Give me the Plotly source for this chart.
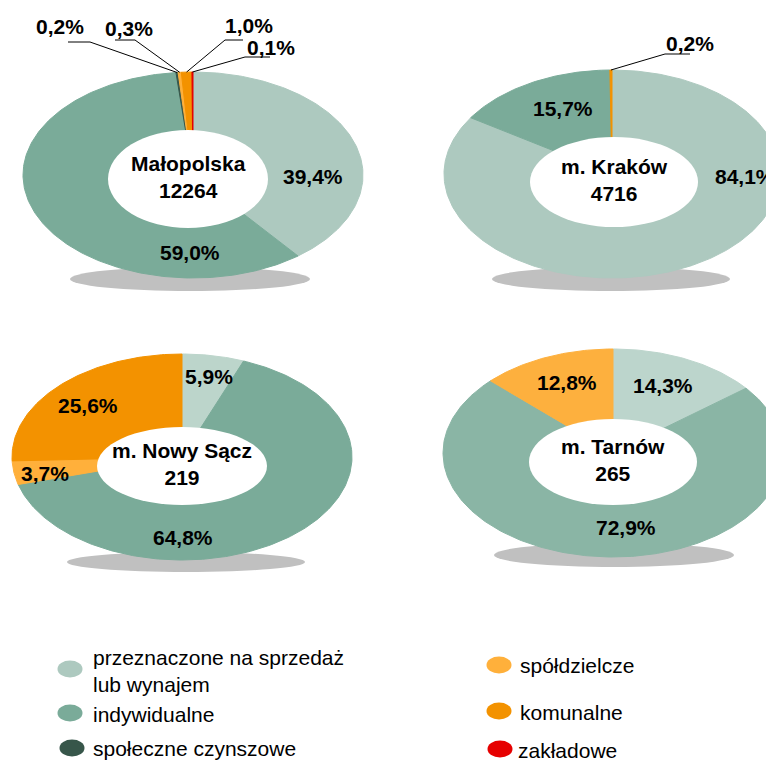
import math
import plotly.graph_objects as go

W, H = 774, 762
PAD = 8  # domyślny margines strony
FONT = "Liberation Sans, Arial, sans-serif"

categories = [
    "przeznaczone na sprzedaż lub wynajem",
    "indywidualne",
    "społeczne czynszowe",
    "spółdzielcze",
    "komunalne",
    "zakładowe",
]
legend_text = [
    "przeznaczone na sprzedaż<br>lub wynajem",
    "indywidualne",
    "społeczne czynszowe",
    "spółdzielcze",
    "komunalne",
    "zakładowe",
]
colors = ["#adc9bf", "#7aab99", "#37564a", "#ffb03b", "#f39200", "#e60000"]

regions = ["Małopolska", "m. Kraków", "m. Nowy Sącz", "m. Tarnów"]
totals = [12264, 4716, 219, 265]

# udział w % (kolejność jak categories)
malopolska = [39.4, 59.0, 0.2, 0.3, 1.0, 0.1]
krakow = [84.1, 15.7, 0.0, 0.0, 0.2, 0.0]
nowy_sacz = [5.9, 64.8, 0.0, 3.7, 25.6, 0.0]
tarnow = [14.3, 72.9, 0.0, 12.8, 0.0, 0.0]
shares = [malopolska, krakow, nowy_sacz, tarnow]

# geometria wykresów (piksele)
geo = [
    dict(c=(193, 175, 170, 103), hole=(188, 179, 80, 49), shadow=(190, 279, 120, 12),
         lbl={0: (313, 176), 1: (190, 252)},
         leaders={2: ((90, 42), 68, (60, 26)), 3: ((135, 40), 115, (129, 28)),
                  4: ((225, 40), 243, (249, 25)), 5: ((245, 57), 270, (271, 47))}),
    dict(c=(612, 174, 168, 104), hole=(614, 182, 84, 45), shadow=(611, 279, 119, 12),
         lbl={0: (745, 176), 1: (563, 108)},
         leaders={4: ((665, 54), 690, (690, 43))}),
    dict(c=(182, 457, 170, 103), hole=(182, 466, 85, 39), shadow=(186, 562, 119, 10),
         lbl={0: (209, 376), 1: (183, 537), 3: (45, 473), 4: (88, 405)},
         leaders={}),
    dict(c=(613, 453, 170, 104), hole=(613, 462, 84, 43), shadow=(614, 555, 120, 12),
         lbl={0: (663, 385), 1: (626, 527), 3: (567, 382)},
         leaders={}),
]
color_override = {2: {0: "#bcd5cb"}, 3: {0: "#bcd5cc", 1: "#8ab5a5", 3: "#fdb03e"}}


def fmt(v):
    return f"{v:.1f}".replace(".", ",") + "%"


def point(cx, cy, rx, ry, f):
    t = 2 * math.pi * f
    return cx + rx * math.sin(t), cy - ry * math.cos(t)


bold = dict(family=FONT, size=21, color="black", weight="bold")

fig = go.Figure()
shapes = []
annotations = []

for k, vals in enumerate(shares):
    g = geo[k]
    cx, cy, rx, ry = g["c"]
    sx, sy, srx, sry = g["shadow"]
    shapes.append(dict(type="circle", xref="x", yref="y", layer="below",
                       x0=sx - srx, x1=sx + srx, y0=sy - sry, y1=sy + sry,
                       fillcolor="#c0c0c0", line=dict(width=0)))
    total = sum(vals)
    cum = 0.0
    for i, v in enumerate(vals):
        if v <= 0:
            continue
        f0, f1 = cum / total, (cum + v) / total
        cum += v
        n = max(2, int((f1 - f0) * 360) + 2)
        xs, ys = [cx], [cy]
        for j in range(n + 1):
            px, py = point(cx, cy, rx, ry, f0 + (f1 - f0) * j / n)
            xs.append(px)
            ys.append(py)
        xs.append(cx)
        ys.append(cy)
        col = color_override.get(k, {}).get(i, colors[i])
        fig.add_trace(go.Scatter(x=xs, y=ys, mode="lines", fill="toself",
                                 fillcolor=col, line=dict(color=col, width=1),
                                 hoverinfo="skip", showlegend=False))
        if i in g["lbl"]:
            lx, ly = g["lbl"][i]
            annotations.append(dict(x=lx, y=ly, text=fmt(v), showarrow=False, font=bold))
        if i in g["leaders"]:
            (nx, ny), fx, (tx, ty) = g["leaders"][i]
            ex, ey = point(cx, cy, rx, ry, (f0 + f1) / 2)
            fig.add_trace(go.Scatter(x=[ex, nx, fx], y=[ey, ny, ny], mode="lines",
                                     line=dict(color="black", width=1),
                                     hoverinfo="skip", showlegend=False))
            annotations.append(dict(x=tx, y=ty, text=fmt(v), showarrow=False, font=bold))
    hx, hy, hrx, hry = g["hole"]
    shapes.append(dict(type="circle", xref="x", yref="y", layer="above",
                       x0=hx - hrx, x1=hx + hrx, y0=hy - hry, y1=hy + hry,
                       fillcolor="white", line=dict(width=0)))
    annotations.append(dict(x=hx, y=hy - 2, text=f"{regions[k]}<br>{totals[k]}",
                            showarrow=False, font=bold))

# legenda
leg_pos = [(70, 669, 91, 671), (70, 713, 91, 714), (72, 748, 91, 748),
           (499, 665, 518, 665), (499, 711, 518, 712), (500, 749, 516, 750)]
for i, (mx, my, tx, ty) in enumerate(leg_pos):
    shapes.append(dict(type="circle", xref="x", yref="y",
                       x0=mx - 12.5, x1=mx + 12.5, y0=my - 8.5, y1=my + 8.5,
                       fillcolor=colors[i], line=dict(width=0)))
    annotations.append(dict(x=tx, y=ty, text=legend_text[i], showarrow=False,
                            xanchor="left", yanchor="middle", align="left",
                            font=dict(family=FONT, size=21, color="black")))

fig.update_layout(
    width=W - PAD, height=H - PAD,
    margin=dict(l=0, r=0, t=0, b=0),
    paper_bgcolor="white", plot_bgcolor="white",
    xaxis=dict(range=[PAD, W], visible=False, fixedrange=True),
    yaxis=dict(range=[H, PAD], visible=False, fixedrange=True),
    shapes=shapes, annotations=annotations,
    showlegend=False,
)
fig.write_html("out.html", post_script="document.body.style.overflow='hidden';")
